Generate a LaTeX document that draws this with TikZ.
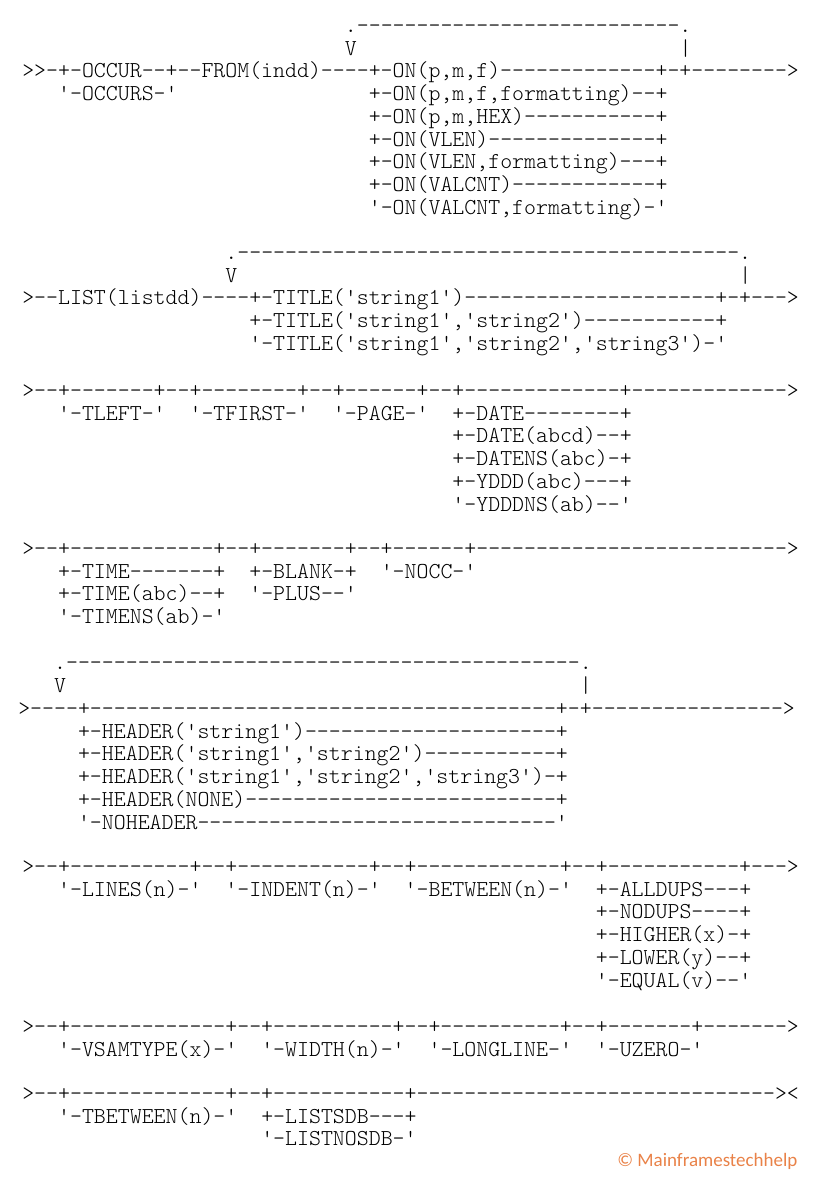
\documentclass[tikz,border=0pt]{standalone}
\usepackage{fontspec}
\newfontfamily\railfont{Latin Modern Mono Light}
\newfontfamily\markfont{Carlito}
\definecolor{markorange}{RGB}{233,130,72}
\ExplSyntaxOn
\NewDocumentCommand\dashrun{m}{\prg_replicate:nn{#1}{-}}
\ExplSyntaxOff

\begin{document}
\begin{tikzpicture}[x=0.75pt,y=-0.75pt,
  rail/.style={font=\railfont\fontsize{17.07}{20}\selectfont, inner sep=0pt, anchor=mid west}]
  \useasboundingbox (0,0) rectangle (827,1197);

  % OCCUR / FROM / ON
  \foreach \col/\row/\txt [count=\n] in {
    27/0/{.\dashrun{27}.}, 27/1/V, 55/1/|,
    0/2/{>>-+-OCCUR--+--FROM(indd)----+-ON(p,m,f)\dashrun{13}+-+\dashrun{8}>},
    3/3/{'-OCCURS-'},
    29/3/{+-ON(p,m,f,formatting)--+},
    29/4/{+-ON(p,m,HEX)\dashrun{11}+},
    29/5/{+-ON(VLEN)\dashrun{14}+},
    29/6/{+-ON(VLEN,formatting)---+},
    29/7/{+-ON(VALCNT)\dashrun{12}+},
    29/8/{'-ON(VALCNT,formatting)-'}
  }
    \node[rail] (from\n) at ({22+\col*11.95},{29.5+\row*22.75}) {\txt};

  % LIST / TITLE
  \foreach \col/\row/\txt [count=\n] in {
    17/0/{.\dashrun{42}.}, 17/1/V, 60/1/|,
    0/2/{>--LIST(listdd)----+-TITLE('string1')\dashrun{21}+-+--->},
    19/3/{+-TITLE('string1','string2')\dashrun{11}+},
    19/4/{'-TITLE('string1','string2','string3')-'}
  }
    \node[rail] (list\n) at ({22+\col*11.95},{256.5+\row*22.75}) {\txt};

  % TLEFT / TFIRST / PAGE / DATE
  \foreach \col/\row/\txt [count=\n] in {
    0/0/{>--+\dashrun{7}+--+\dashrun{8}+--+\dashrun{6}+--+\dashrun{13}+\dashrun{13}>},
    3/1/{'-TLEFT-'}, 14/1/{'-TFIRST-'}, 26/1/{'-PAGE-'}, 36/1/{+-DATE\dashrun{8}+},
    36/2/{+-DATE(abcd)--+},
    36/3/{+-DATENS(abc)-+},
    36/4/{+-YDDD(abc)---+},
    36/5/{'-YDDDNS(ab)--'}
  }
    \node[rail] (page\n) at ({22+\col*11.95},{394.5+\row*22.75}) {\txt};

  % TIME / BLANK / NOCC
  \foreach \col/\row/\txt [count=\n] in {
    0/0/{>--+\dashrun{12}+--+\dashrun{7}+--+\dashrun{6}+\dashrun{26}>},
    3/1/{+-TIME\dashrun{7}+}, 19/1/{+-BLANK-+}, 30/1/{'-NOCC-'},
    3/2/{+-TIME(abc)--+}, 19/2/{'-PLUS--'},
    3/3/{'-TIMENS(ab)-'}
  }
    \node[rail] (time\n) at ({22+\col*11.95},{552.5+\row*22.75}) {\txt};

  % HEADER
  \foreach \col/\row/\txt [count=\n] in {
    3/0/{.\dashrun{43}.}, 3/1/V, 47/1/|,
    0/2/{>----+\dashrun{39}+-+\dashrun{16}>},
    5/3/{+-HEADER('string1')\dashrun{21}+},
    5/4/{+-HEADER('string1','string2')\dashrun{11}+},
    5/5/{+-HEADER('string1','string2','string3')-+},
    5/6/{+-HEADER(NONE)\dashrun{26}+},
    5/7/{'-NOHEADER\dashrun{30}'}
  }
    \node[rail] (head\n) at ({18+\col*11.95},{667+\row*22.75}) {\txt};

  % LINES / INDENT / BETWEEN / DUPS
  \foreach \col/\row/\txt [count=\n] in {
    0/0/{>--+\dashrun{10}+--+\dashrun{11}+--+\dashrun{12}+--+\dashrun{11}+--->},
    3/1/{'-LINES(n)-'}, 17/1/{'-INDENT(n)-'}, 32/1/{'-BETWEEN(n)-'}, 48/1/{+-ALLDUPS---+},
    48/2/{+-NODUPS----+},
    48/3/{+-HIGHER(x)-+},
    48/4/{+-LOWER(y)--+},
    48/5/{'-EQUAL(v)--'}
  }
    \node[rail] (dups\n) at ({22+\col*11.95},{870.5+\row*22.75}) {\txt};

  % VSAMTYPE / WIDTH / LONGLINE / UZERO
  \foreach \col/\row/\txt [count=\n] in {
    0/0/{>--+\dashrun{13}+--+\dashrun{10}+--+\dashrun{10}+--+\dashrun{7}+\dashrun{7}>},
    3/1/{'-VSAMTYPE(x)-'}, 20/1/{'-WIDTH(n)-'}, 34/1/{'-LONGLINE-'}, 48/1/{'-UZERO-'}
  }
    \node[rail] (vsam\n) at ({22+\col*11.95},{1030.5+\row*22.75}) {\txt};

  % TBETWEEN / LISTSDB
  \foreach \col/\row/\txt [count=\n] in {
    0/0/{>--+\dashrun{13}+--+\dashrun{11}+\dashrun{30}><},
    3/1/{'-TBETWEEN(n)-'}, 20/1/{+-LISTSDB---+},
    20/2/{'-LISTNOSDB-'}
  }
    \node[rail] (sdb\n) at ({22+\col*11.95},{1097.5+\row*22.75}) {\txt};

  \node[font=\markfont\fontsize{14.25}{16}\selectfont, text=markorange, inner sep=0pt, anchor=mid west] (mark) at (617,1164) {© Mainframestechhelp};
\end{tikzpicture}
\end{document}
